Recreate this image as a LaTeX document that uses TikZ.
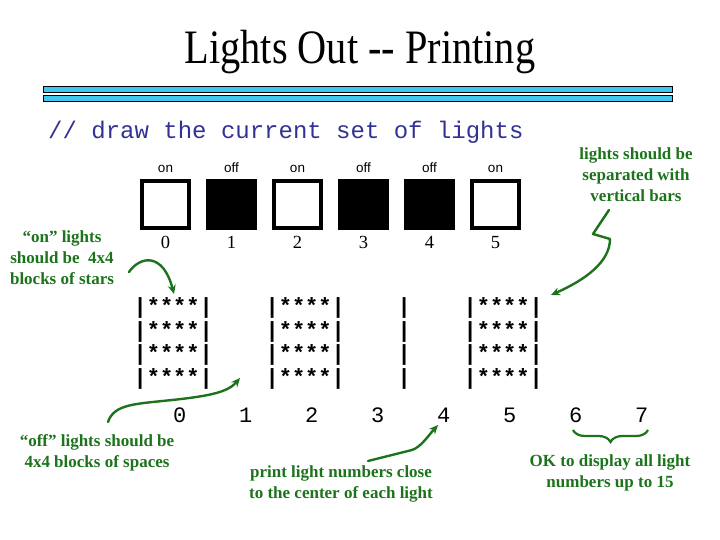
\documentclass[tikz,border=0pt]{standalone}
\usepackage{fontspec}
\setmainfont{Liberation Serif}
\newfontfamily\monof{Liberation Mono}
\newfontfamily\sansf{Liberation Sans}
\usetikzlibrary{arrows.meta,decorations.pathreplacing}
\definecolor{notegreen}{RGB}{28,115,28}
\definecolor{codeblue}{RGB}{50,50,150}
\definecolor{barblue}{RGB}{64,200,240}
\tikzset{
  lightbox/.style={draw=black, line width=3.5pt, minimum size=47pt, inner sep=0pt},
  statelbl/.style={font=\sansf\fontsize{13.5}{13.5}\selectfont, anchor=base, inner sep=0pt},
  boxnum/.style={font=\fontsize{18.5}{18.5}\selectfont, anchor=base, inner sep=0pt},
  monorow/.style={font=\monof\bfseries\fontsize{22}{22}\selectfont, anchor=base west, inner sep=0pt},
  mononum/.style={font=\monof\fontsize{22}{22}\selectfont, anchor=base, inner sep=0pt},
  note/.style={text=notegreen, font=\bfseries\fontsize{17}{21}\selectfont, align=center, inner sep=0pt},
  garrow/.style={draw=notegreen, line width=2.4pt, line cap=round, line join=round, -{Stealth[length=9pt,width=8pt]}},
  titlebar/.style={draw=black, line width=1pt, fill=barblue}
}
\begin{document}
\begin{tikzpicture}[x=1pt,y=-1pt]
\useasboundingbox (0,0) rectangle (720,540);
% title
\node[font=\fontsize{48}{48}\selectfont, xscale=0.84, inner sep=0pt] (title) at (360,52) {Lights Out -{}- Printing};
\draw[titlebar] (43,87) rectangle (672,93);
\draw[titlebar] (43,96) rectangle (672,102);
% code comment
\node[font=\monof\fontsize{24}{24}\selectfont, text=codeblue, anchor=base west, inner sep=0pt] (code) at (48,139) {// draw the current set of lights};
% light boxes
\foreach \k/\s/\f in {0/on/white,1/off/black,2/on/white,3/off/black,4/off/black,5/on/white}{
  \node[lightbox, fill=\f] (box\k) at (165.5+66*\k,204.5) {};
  \node[statelbl] (state\k) at (165.5+66*\k,173) {\s};
  \node[boxnum] (bnum\k) at (165.5+66*\k,248) {\k};
}
% printed rows
\foreach \r/\yy in {1/313,2/337,3/360,4/384}{
  \node[monorow] (row\r) at (133.4,\yy) {|****|\phantom{****}|****|\phantom{****}|\phantom{****}|****|};
}
\foreach \k in {0,...,7}{
  \node[mononum] (pnum\k) at (179.6+66*\k,422) {\k};
}
% notes
\node[note] (onnote) at (62,258) {“on” lights\\should be~~4x4\\blocks of stars};
\node[note] (barnote) at (636,175) {lights should be\\separated with\\vertical bars};
\node[note] (offnote) at (97,453) {“off” lights should be\\4x4 blocks of spaces};
\node[note] (printnote) at (341,484) {print light numbers close\\to the center of each light};
\node[note] (oknote) at (610,473) {OK to display all light\\numbers up to 15};
% arrow ends
\coordinate (onS) at (129,272);
\coordinate (onE) at (174,294);
\coordinate (barS) at (609,210);
\coordinate (barE) at (551,295);
\coordinate (offS) at (108,422);
\coordinate (offE) at (240,378);
\coordinate (prS) at (368,461);
\coordinate (prE) at (438,425);
% arrows
\draw[garrow] (onS) .. controls (140,256) and (163,252) .. (onE);
\draw[garrow] (barS) -- (593,234) -- (610,239) .. controls (610,262) and (585,280) .. (barE);
\draw[garrow] (offS) .. controls (114,404) and (135,404) .. (172,400) .. controls (210,396) and (228,392) .. (offE);
\draw[garrow] (prS) -- (412,450) .. controls (421,447) and (428,436) .. (prE);
% brace
\coordinate (brL) at (573,430);
\coordinate (brR) at (648,430);
\draw[draw=notegreen, line width=2.2pt, decorate, decoration={brace, mirror, amplitude=12pt}] (brL) -- (brR);
\end{tikzpicture}
\end{document}
